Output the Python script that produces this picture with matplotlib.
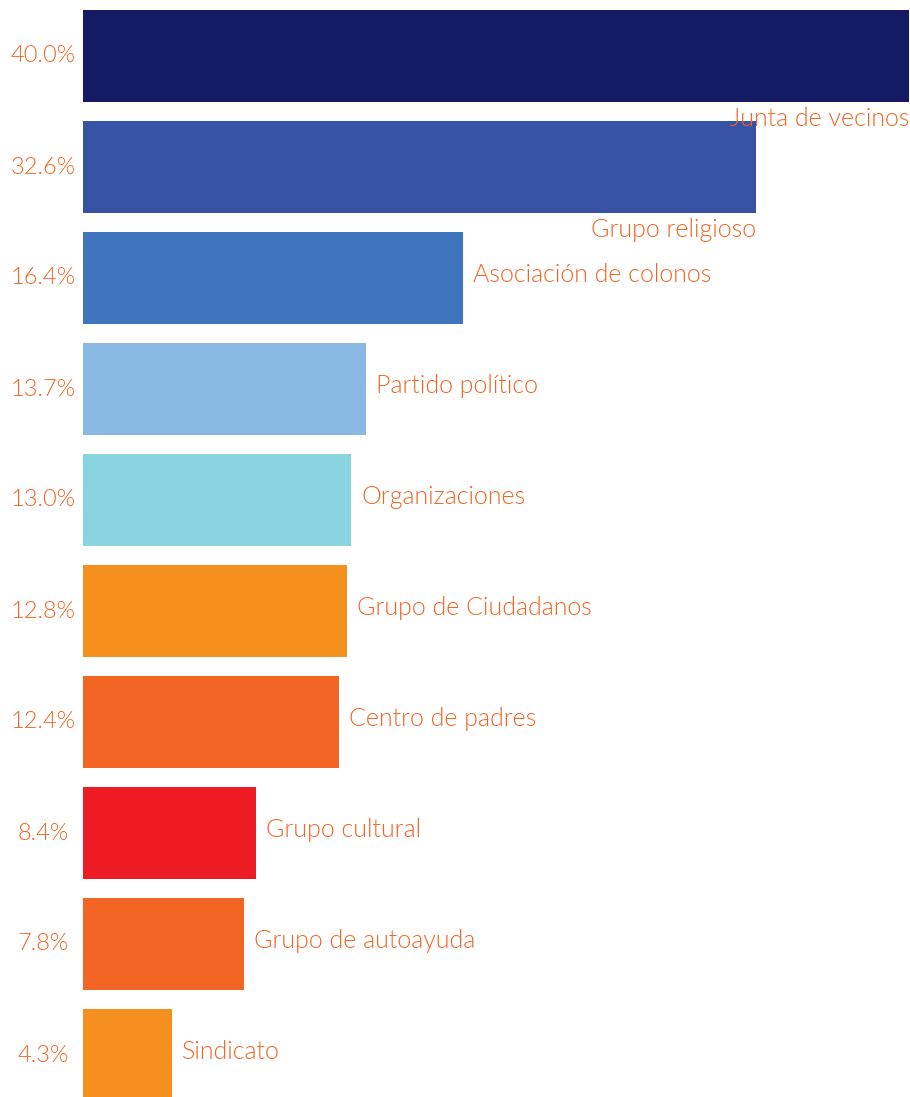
import matplotlib
matplotlib.use("Agg")
import matplotlib.pyplot as plt
from matplotlib import font_manager

categories = ["Junta de vecinos", "Grupo religioso", "Asociación de colonos",
              "Partido político", "Organizaciones", "Grupo de Ciudadanos",
              "Centro de padres", "Grupo cultural", "Grupo de autoayuda", "Sindicato"]
# bar lengths as drawn in the original (the 16.4% bar is drawn longer there)
values = [40.0, 32.6, 18.4, 13.7, 13.0, 12.8, 12.4, 8.4, 7.8, 4.3]
pct_labels = ["40.0%", "32.6%", "16.4%", "13.7%", "13.0%", "12.8%",
              "12.4%", "8.4%", "7.8%", "4.3%"]
colors = ["#141B64", "#3953A4", "#3F75BC", "#89B9E3", "#89D4E1",
          "#F5901F", "#F26522", "#ED1C24", "#F26522", "#F58F1F"]

text_color = "#F26522"
names = {f.name for f in font_manager.fontManager.ttflist}
family = "Lato" if "Lato" in names else "DejaVu Sans"
weight = 300

W, H = 910, 1097
fig = plt.figure(figsize=(W / 100, H / 100), dpi=100)
ax = fig.add_axes([83 / W, 0, 826 / W, 1])

y = list(range(len(values)))
ax.barh(y, values, height=0.83, color=colors)
ax.set_xlim(0, 40)
ax.set_ylim(9.378, -0.505)
ax.axis("off")

for i, (v, lab, cat) in enumerate(zip(values, pct_labels, categories)):
    # percent label, centred in the left margin
    fig.text(43 / W, 1 - (56 + i * 111) / H, lab, ha="center", va="center",
             fontsize=17, color=text_color, family=family, fontweight=weight)
    if i < 2:
        ax.text(v, i + 0.57, cat, ha="right", va="center", fontsize=18,
                color=text_color, family=family, fontweight=weight)
    else:
        ax.annotate(cat, (v, i), xytext=(7, 2), textcoords="offset points",
                    ha="left", va="center", fontsize=18,
                    color=text_color, family=family, fontweight=weight)

fig.savefig("out.png", dpi=100)
